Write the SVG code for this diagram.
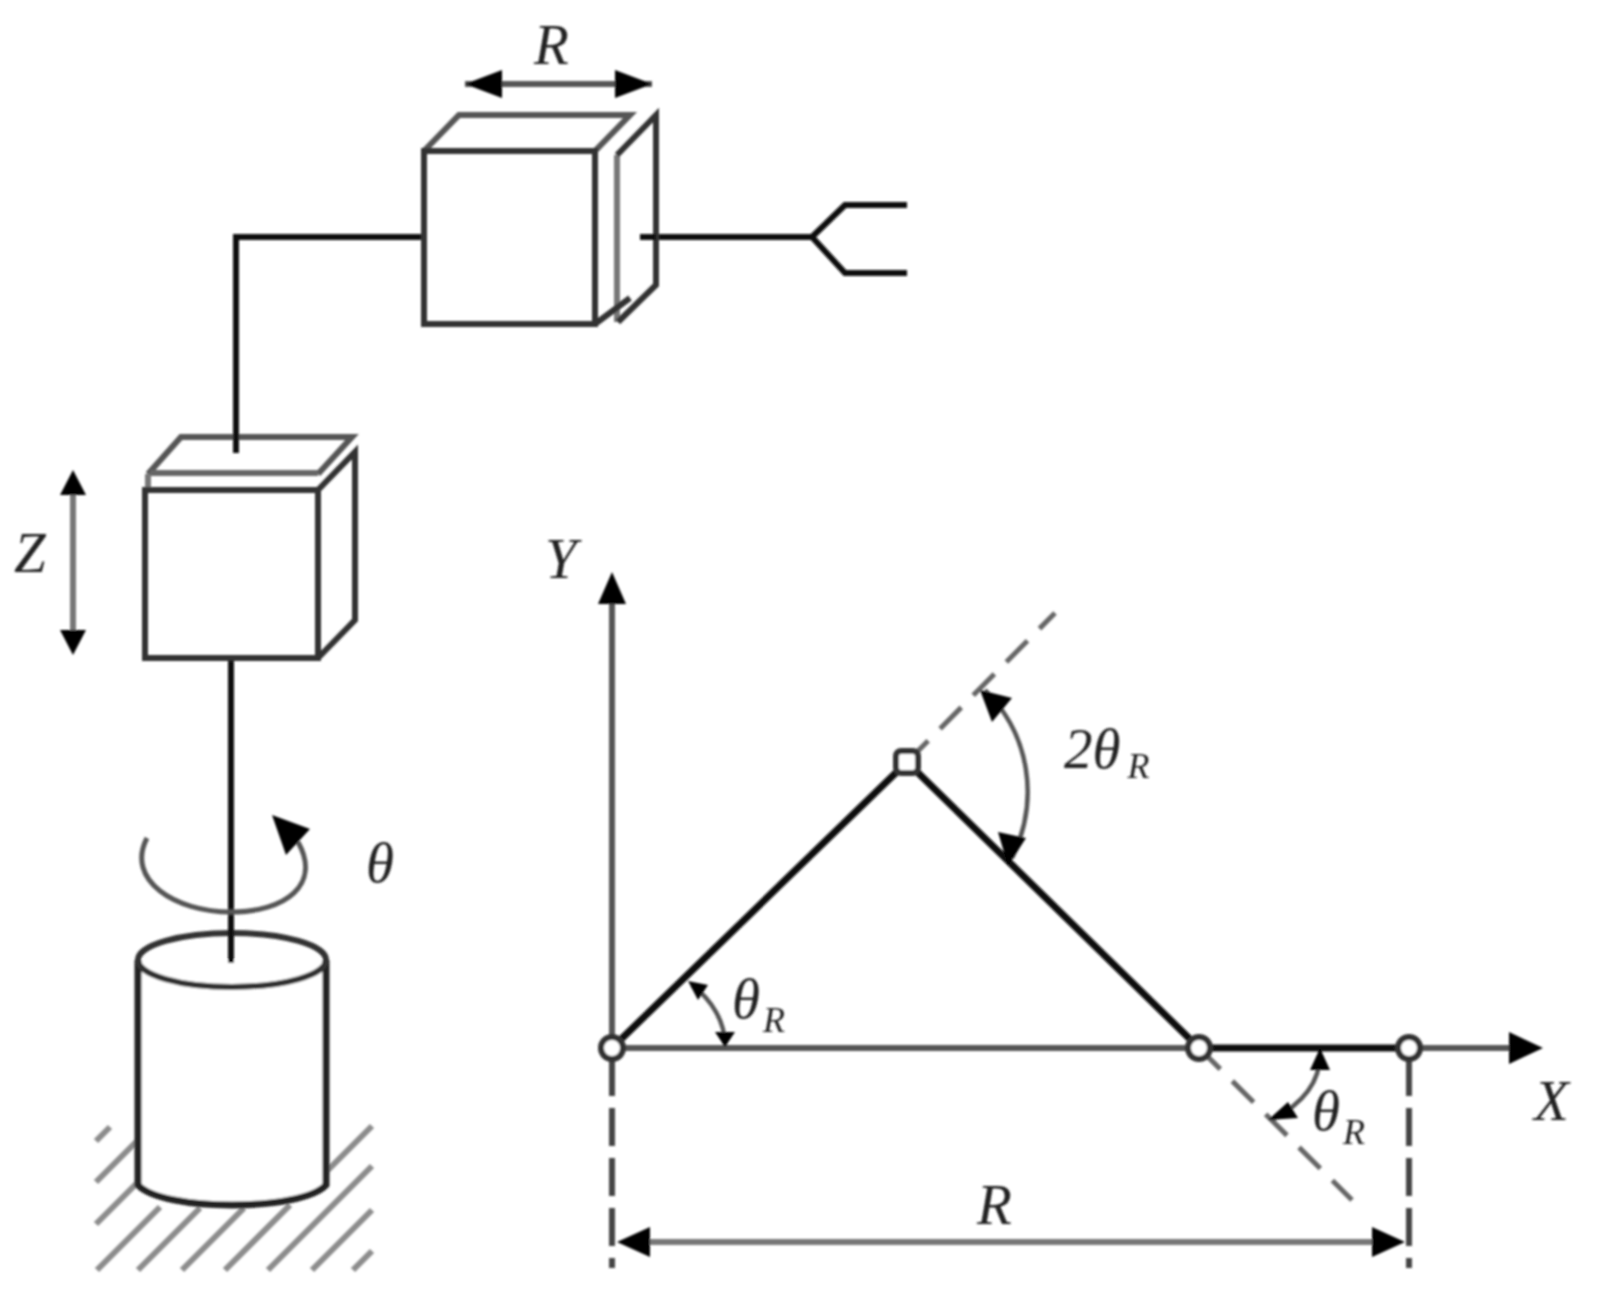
<svg xmlns="http://www.w3.org/2000/svg" width="1599" height="1290" viewBox="0 0 1599 1290">
<style>
.l{fill:none;stroke:#111;stroke-width:6}
.m{fill:none;stroke:#333;stroke-width:6}
.g{fill:none;stroke:#555;stroke-width:6}
.h{fill:none;stroke:#8c8c8c;stroke-width:6}
.d{fill:none;stroke:#444;stroke-width:6;stroke-dasharray:38 12}
.dd{fill:none;stroke:#666;stroke-width:5;stroke-dasharray:30 17}
.n{fill:#fff;stroke:#333;stroke-width:6}
.a{fill:#000}
text{font-family:"Liberation Serif","Times New Roman",serif;font-style:italic;fill:#222;font-size:57px}
.s{font-size:36px}
</style>
<defs><filter id="b" x="-5%" y="-5%" width="110%" height="110%"><feGaussianBlur stdDeviation="1.2"/></filter></defs>
<g filter="url(#b)">
<g id="ground">
<path class="h" d="M96 1141L110 1127M96 1182L140 1138M96 1224L140 1180M97 1270L160 1207M138 1270L200 1208M182 1270L244 1208M225 1270L290 1205M268 1270L372 1166M312 1270L372 1210M353 1270L372 1251M326 1172L372 1126"/>
</g>
<g id="connectors">
<path class="l" d="M424 237H236V453"/>
<path class="l" d="M231 658V963"/>
<path class="l" d="M640 237H812L845 205H907M812 237L845 273H907"/>
<path class="g" d="M465 84H652"/>
<path class="a" d="M465 84L502 70V98ZM652 84L615 70V98Z"/>
<path class="h" style="stroke:#777" d="M73 490V640"/>
<path class="a" d="M73 470L60 495H86ZM73 655L60 630H86Z"/>
<path class="g" style="stroke-width:5" d="M147 838C125 880 175 912 231 912C285 912 322 885 298 842"/>
<path class="a" d="M272 815L310 829L286 855Z"/>
</g>
<g id="base">
<path fill="#fff" stroke="#222" stroke-width="7" d="M138 960V1185C150 1198 190 1205 232 1205C274 1205 314 1198 326 1185V960"/>
<ellipse class="m" cx="232" cy="960" rx="94" ry="27"/>
<path class="l" d="M231 930V963"/>
</g>
<g id="lift">
<path class="g" d="M148 474L181 437H352L318 474"/>
<path class="h" style="stroke:#666" d="M150 473H318"/>
<path class="m" d="M318 490L355 452V620L318 658"/>
<path class="g" style="stroke:#777" d="M148 490V474"/>
<rect x="145" y="490" width="173" height="168" fill="#fff" class="m"/>
<path class="l" d="M236 430V453"/>
</g>
<g id="arm">
<path class="g" d="M424 151L459 115H630L595 151"/>
<path class="g" style="stroke:#777" d="M617 155V322"/>
<path class="m" d="M617 155L656 115V285L618 322M595 324L630 298"/>
<rect x="424" y="151" width="171" height="173" fill="#fff" class="m"/>
<path class="l" d="M640 237H656"/>
</g>
<g id="axes">
<path class="g" d="M612 1048V590"/>
<path class="a" d="M612 572L598 604H626Z"/>
<path class="g" d="M612 1048H1515"/>
<path class="a" d="M1543 1048L1509 1032V1064Z"/>
<path class="d" d="M612 1058V1268M1409 1058V1268"/>
<path class="g" style="stroke:#777" d="M625 1242H1385"/>
<path class="a" d="M617 1242L650 1227V1257ZM1405 1242L1372 1227V1257Z"/>
</g>
<g id="links">
<path class="l" style="stroke-width:7" d="M612 1048L907 762L1199 1048H1409"/>
<path class="dd" d="M907 762L1055 613M1199 1048L1352 1200"/>
<path class="g" style="stroke-width:4.5" d="M692 985C712 1000 725 1022 725 1045"/>
<path class="a" d="M688 981L708 985L698 1000ZM725 1047L715 1032H735Z"/>
<path class="g" style="stroke-width:4.5" d="M985 690C1030 735 1040 800 1012 858"/>
<path class="a" d="M980 690L1012 698L992 722ZM1008 866L1026 838L998 832Z"/>
<path class="g" style="stroke-width:4.5" d="M1320 1055C1320 1085 1300 1105 1272 1120"/>
<path class="a" d="M1320 1048L1310 1070H1330ZM1268 1120L1288 1102L1298 1118Z"/>
</g>
<g id="joints">
<circle class="n" cx="612" cy="1048" r="11"/>
<rect class="n" x="896" y="751" width="22" height="22" rx="5"/>
<circle class="n" cx="1199" cy="1048" r="11"/>
<circle class="n" cx="1409" cy="1048" r="11"/>
</g>
</g>
<g id="labels" filter="url(#b)">
<text x="534" y="64">R</text>
<text x="14" y="572">Z</text>
<text x="366" y="882">θ</text>
<text x="545" y="578">Y</text>
<text x="1534" y="1120">X</text>
<text x="977" y="1224">R</text>
<text x="1064" y="768">2θ<tspan class="s" dy="10" dx="7">R</tspan></text>
<text x="732" y="1018">θ<tspan class="s" dy="14" dx="3">R</tspan></text>
<text x="1312" y="1130">θ<tspan class="s" dy="14" dx="3">R</tspan></text>
</g>
</svg>
